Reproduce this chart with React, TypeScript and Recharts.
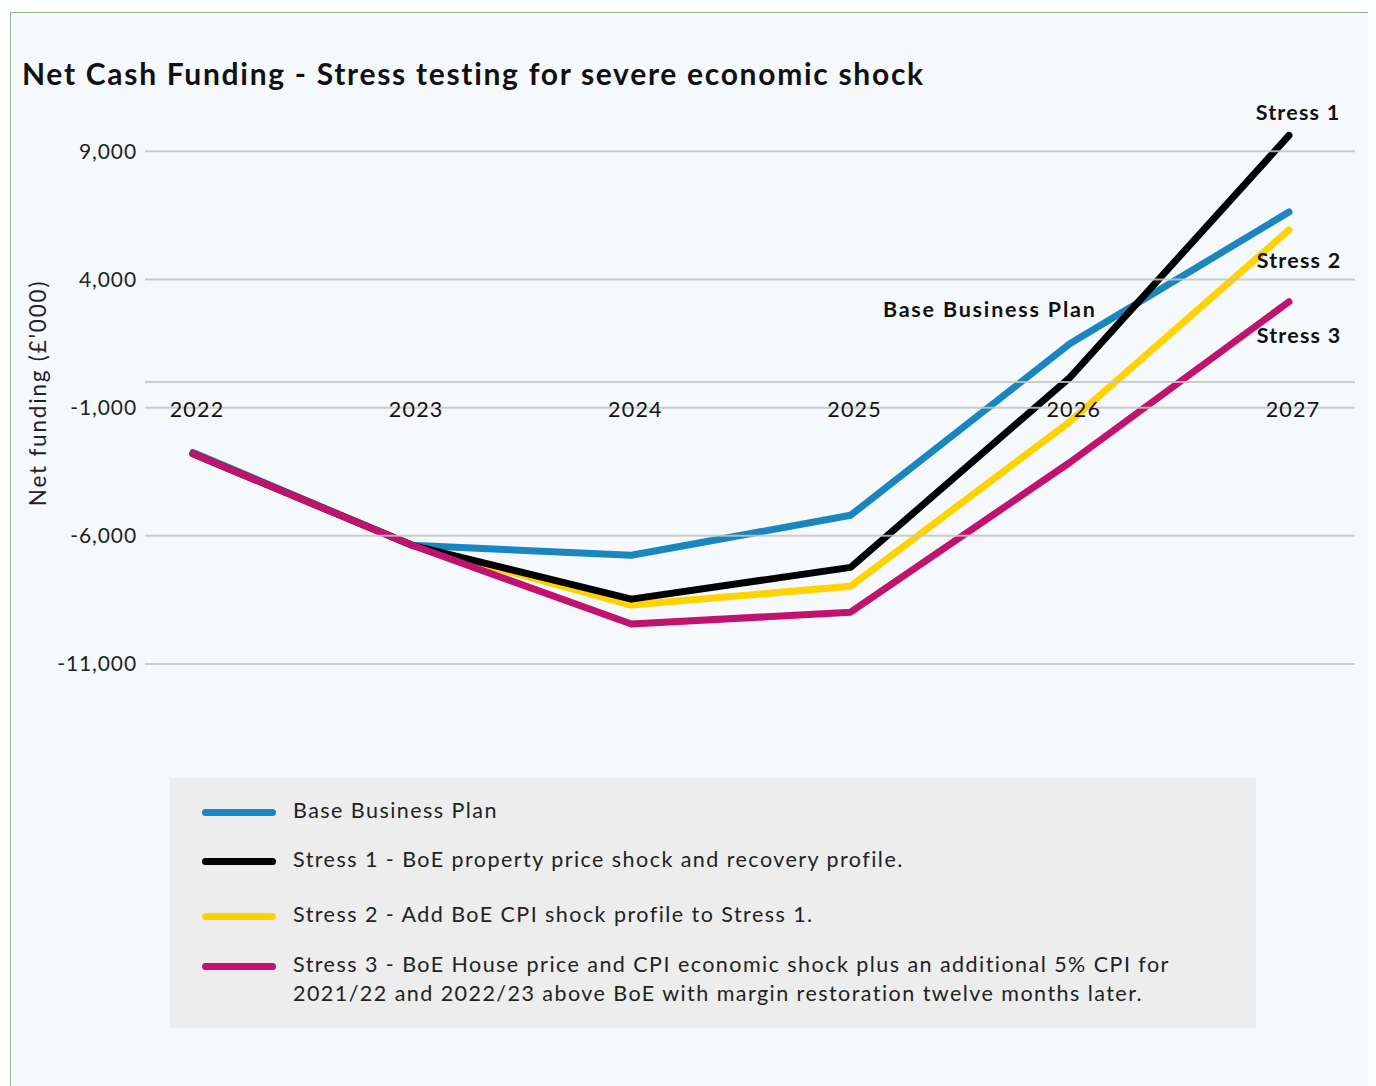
import { LineChart, Line, XAxis, YAxis, ReferenceLine, ReferenceDot } from 'recharts';

const years = ['2022', '2023', '2024', '2025', '2026', '2027'];
const basePlan = [-2750, -6370, -6760, -5200, 1490, 6630];
const stress1 = [-2800, -6370, -8470, -7230, 170, 9620];
const stress2 = [-2800, -6370, -8700, -7970, -1550, 5930];
const stress3 = [-2800, -6370, -9440, -8980, -3140, 3130];
const yTicks = [-11000, -6000, -1000, 4000, 9000];

const legendItems = [
  { key: 'base', color: '#1a86c0', text: 'Base Business Plan' },
  { key: 's1', color: '#000000', text: 'Stress 1 - BoE property price shock and recovery profile.' },
  { key: 's2', color: '#ffd200', text: 'Stress 2 - Add BoE CPI shock profile to Stress 1.' },
  {
    key: 's3',
    color: '#c0136f',
    text: 'Stress 3 - BoE House price and CPI economic shock plus an additional 5% CPI for 2021/22 and 2022/23 above BoE with margin restoration twelve months later.',
  },
];

const data = years.map((year, i) => ({
  year,
  base: basePlan[i],
  s1: stress1[i],
  s2: stress2[i],
  s3: stress3[i],
}));

const FONT = 'Lato, "Open Sans", sans-serif';
const last = years.length - 1;
const rowGaps = [20, 26, 21, 0];

function offsetLabel(text: string, dx: number, dy: number, bold = true, size = 21.5, spacing = 1.5) {
  return (props: any) => {
    const vb = props.viewBox || {};
    const cx = (vb.x ?? 0) + (vb.width ?? 0) / 2;
    const cy = (vb.y ?? 0) + (vb.height ?? 0) / 2;
    return (
      <text
        x={cx + dx}
        y={cy + dy}
        textAnchor="middle"
        dominantBaseline="central"
        fontFamily={FONT}
        fontSize={size}
        fontWeight={bold ? 700 : 400}
        fill="#111"
        style={{ letterSpacing: `${spacing}px` }}
      >
        {text}
      </text>
    );
  };
}

export default function App() {
  return (
    <div
      style={{
        position: 'relative',
        marginLeft: 2,
        marginTop: 4,
        width: 1359,
        height: 1080,
        border: '1px solid #8fb48f',
        background: '#f5f9fc',
        fontFamily: FONT,
      }}
    >
      <div
        style={{
          position: 'absolute',
          left: 11,
          top: 42,
          fontSize: 30,
          fontWeight: 700,
          letterSpacing: '1.7px',
          color: '#111',
          whiteSpace: 'nowrap',
        }}
      >
        Net Cash Funding - Stress testing for severe economic shock
      </div>

      <div style={{ position: 'absolute', left: 0, top: 0 }}>
        <LineChart
          width={1358}
          height={700}
          data={data}
          margin={{ top: 87, right: 14, bottom: 49, left: 0 }}
        >
          <XAxis dataKey="year" hide padding={{ left: 48, right: 66 }} />
          <YAxis
            width={134}
            domain={[-11000, 11000]}
            ticks={yTicks}
            interval={0}
            tickLine={false}
            axisLine={false}
            tick={{ fill: '#222', fontSize: 21, fontFamily: FONT, style: { letterSpacing: '0.9px' } }}
            tickFormatter={(v: number) => v.toLocaleString('en-GB')}
            label={{
              content: (props: any) => {
                const vb = props.viewBox || {};
                const cx = 26;
                const cy = (vb.y ?? 0) + (vb.height ?? 0) / 2 + 11;
                return (
                  <text
                    x={cx}
                    y={cy}
                    transform={`rotate(-90 ${cx} ${cy})`}
                    textAnchor="middle"
                    dominantBaseline="central"
                    fontFamily={FONT}
                    fontSize={22.5}
                    fill="#222"
                    style={{ letterSpacing: '1.8px' }}
                  >
                    Net funding (£'000)
                  </text>
                );
              },
            }}
          />
          <Line dataKey="base" stroke="#1a86c0" strokeWidth={7} strokeLinecap="round" strokeLinejoin="round" dot={false} isAnimationActive={false} />
          <Line dataKey="s2" stroke="#ffd200" strokeWidth={7} strokeLinecap="round" strokeLinejoin="round" dot={false} isAnimationActive={false} />
          <Line dataKey="s1" stroke="#000000" strokeWidth={7} strokeLinecap="round" strokeLinejoin="round" dot={false} isAnimationActive={false} />
          <Line dataKey="s3" stroke="#c0136f" strokeWidth={7} strokeLinecap="round" strokeLinejoin="round" dot={false} isAnimationActive={false} />

          {yTicks.map((t) => (
            <ReferenceLine key={t} y={t} stroke="#c4c4c4" strokeWidth={2} strokeOpacity={0.85} />
          ))}
          <ReferenceLine y={0} stroke="#c4c4c4" strokeWidth={2} strokeOpacity={0.85} />

          {years.map((y) => (
            <ReferenceDot
              key={y}
              x={y}
              y={0}
              r={0}
              fill="none"
              stroke="none"
              label={{ content: offsetLabel(y, 4, 27, false, 21.5, 1.2) }}
            />
          ))}

          <ReferenceDot x={years[last]} y={stress1[last]} r={0} fill="none" stroke="none" label={{ content: offsetLabel('Stress 1', 9, -23, true, 21.5, 1.2) }} />
          <ReferenceDot x={years[last]} y={stress2[last]} r={0} fill="none" stroke="none" label={{ content: offsetLabel('Stress 2', 10, 30, true, 21.5, 1.2) }} />
          <ReferenceDot x={years[last]} y={stress3[last]} r={0} fill="none" stroke="none" label={{ content: offsetLabel('Stress 3', 10, 33, true, 21.5, 1.2) }} />
          <ReferenceDot x={years[4]} y={basePlan[4]} r={0} fill="none" stroke="none" label={{ content: offsetLabel('Base Business Plan', -80, -35, true, 21.5, 1.8) }} />
        </LineChart>
      </div>

      <div
        style={{
          position: 'absolute',
          left: 159,
          top: 765,
          width: 1086,
          height: 250,
          background: '#ededed',
          boxSizing: 'border-box',
          paddingTop: 18,
        }}
      >
        {legendItems.map((item, i) => (
          <div
            key={item.key}
            style={{
              display: 'flex',
              alignItems: 'flex-start',
              marginBottom: rowGaps[i],
            }}
          >
            <div
              style={{
                width: 74,
                height: 7,
                borderRadius: 4,
                background: item.color,
                marginLeft: 32,
                marginTop: 13,
                flexShrink: 0,
              }}
            />
            <div
              style={{
                marginLeft: 17,
                fontSize: 21.5,
                lineHeight: '29px',
                letterSpacing: '1.45px',
                color: '#222',
                width: 930,
              }}
            >
              {item.text}
            </div>
          </div>
        ))}
      </div>
    </div>
  );
}
